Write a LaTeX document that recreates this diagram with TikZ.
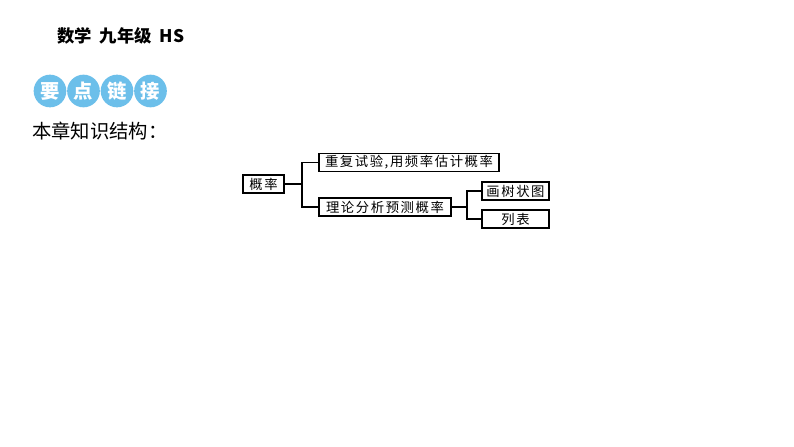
\documentclass[tikz,border=0pt]{standalone}
\usepackage{fontspec}
\newfontfamily\cjk{Noto Sans CJK SC}
\newfontfamily\cjkbox[LetterSpace=12]{Noto Sans CJK SC}
\definecolor{dotblue}{HTML}{6CBFEA}
\begin{document}
\begin{tikzpicture}[x=0.75pt,y=-0.75pt,
  box/.style={draw=black,line width=0.8pt,inner sep=0pt,minimum height=13.5pt,
    font=\cjkbox\fontsize{10pt}{11pt}\selectfont,fill=white},
  link/.style={draw=black,line width=0.8pt},
  dot/.style={circle,fill=dotblue,minimum size=24.5pt,inner sep=0pt,
    font=\cjk\bfseries\fontsize{14.5pt}{15pt}\selectfont,text=white}]
\useasboundingbox (0,0) rectangle (794,447);
% header
\node[anchor=west,inner sep=0pt,font=\cjk\bfseries\fontsize{13pt}{14pt}\selectfont] (hdr) at (57,36) {数学\ \ 九年级\ \ HS};
% dots
\node[dot] (d1) at (50,91) {要};
\node[dot] (d2) at (83.5,91) {点};
\node[dot] (d3) at (117,91) {链};
\node[dot] (d4) at (150.5,91) {接};
% subtitle
\node[anchor=west,inner sep=0pt,font=\cjk\fontsize{14.5pt}{15pt}\selectfont] (sub) at (32,131) {本章知识结构：};
% tree
\node[box,minimum width=30.75pt] (a) at (263.5,184) {概率};
\node[box,minimum width=135pt] (b) at (409,162.5) {重复试验,用频率估计概率};
\node[box,minimum width=99pt] (c) at (385,207) {理论分析预测概率};
\node[box,minimum width=50.25pt] (d) at (515.5,191) {画树状图};
\node[box,minimum width=50.25pt] (e) at (515.5,219) {列表};
\coordinate (j1) at (302,184);
\coordinate (j2) at (467,207);
\draw[link] (a.east) -- (j1);
\draw[link] (b.west) -| (j1) |- (c.west);
\draw[link] (c.east) -- (j2);
\draw[link] (d.west) -| (j2) |- (e.west);
\end{tikzpicture}
\end{document}
